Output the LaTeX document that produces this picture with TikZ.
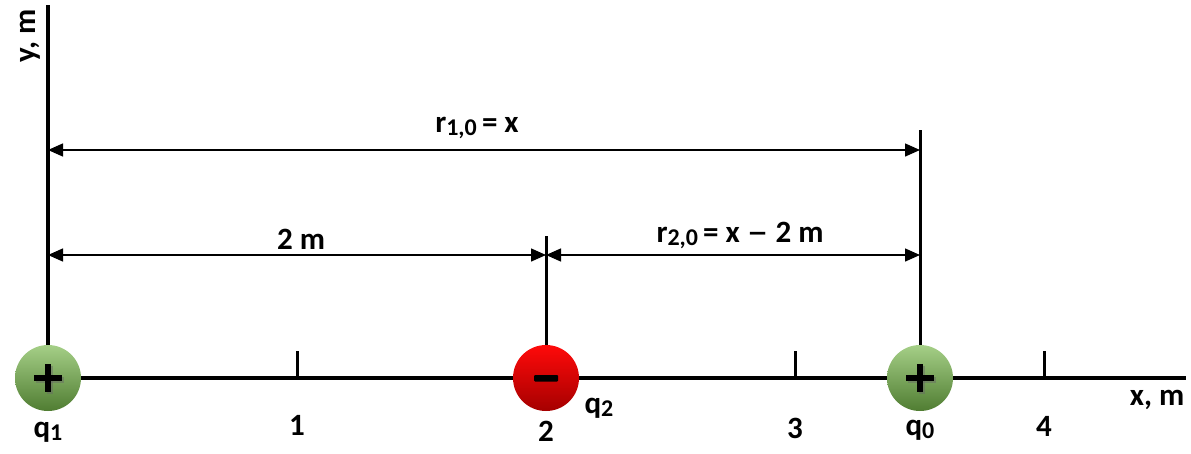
\documentclass[tikz,border=0pt]{standalone}
\usepackage{fontspec}
\setmainfont{Carlito}
\usetikzlibrary{arrows.meta}
\definecolor{gtop}{RGB}{165,207,135}
\definecolor{gbot}{RGB}{80,125,50}
\definecolor{rtop}{RGB}{255,10,10}
\definecolor{rbot}{RGB}{165,0,0}
\tikzset{
  axisline/.style={line width=4pt},
  tickline/.style={line width=3pt},
  dimline/.style={line width=1.4pt,{Triangle[length=15pt,width=13pt]}-{Triangle[length=15pt,width=13pt]}},
  lbl/.style={font=\fontsize{31}{31}\selectfont\bfseries,inner sep=0pt},
  posball/.style={circle,minimum size=66pt,inner sep=0pt,top color=gtop,bottom color=gbot},
  negball/.style={circle,minimum size=66pt,inner sep=0pt,top color=rtop,bottom color=rbot},
}
\newcommand{\sbs}[1]{\raisebox{-3pt}{\fontsize{24}{24}\selectfont #1}}
\begin{document}
\begin{tikzpicture}[x=1pt,y=-1pt]
\useasboundingbox (0,0) rectangle (1191,453);
% axes
\coordinate (ytop) at (48,5);
\coordinate (O) at (48,378);
\coordinate (xend) at (1186,378);
\draw[axisline] (ytop) -- (O);
\draw[axisline] (O) -- (xend);
% ticks
\coordinate (t1) at (297,378); \coordinate (t1u) at (297,351);
\coordinate (t3) at (795,378); \coordinate (t3u) at (795,351);
\coordinate (t4) at (1044,378); \coordinate (t4u) at (1044,351);
\draw[tickline] (t1) -- (t1u);
\draw[tickline] (t3) -- (t3u);
\draw[tickline] (t4) -- (t4u);
\coordinate (t2) at (546,378); \coordinate (t2u) at (546,236);
\draw[tickline] (t2) -- (t2u);
\coordinate (t0) at (920,378); \coordinate (t0u) at (920,130);
\draw[tickline] (t0) -- (t0u);
% dimension arrows
\coordinate (a1l) at (48,150); \coordinate (a1r) at (920,150);
\draw[dimline] (a1l) -- (a1r);
\coordinate (a2l) at (48,255); \coordinate (a2r) at (546,255);
\draw[dimline] (a2l) -- (a2r);
\coordinate (a3l) at (546,255); \coordinate (a3r) at (920,255);
\draw[dimline] (a3l) -- (a3r);
\node[lbl] (l10) at (477,128) {r\sbs{1,0}\,= x};
\node[lbl] (l2m) at (301,239) {2 m};
\node[lbl] (l20) at (740,235) {r\sbs{2,0}\,= x \scalebox{1.4}[1]{--} 2 m};
% charges
\node[posball] (q1) at (48,378) {};
\node[negball] (q2) at (546,378) {};
\node[posball] (q0) at (920,378) {};
\foreach \c in {q1,q0}{
  \draw[line width=6pt,black!60,opacity=0.45] ([shift={(1.5,1.5)}]\c.center) ++(-14,0) -- ++(28,0);
  \draw[line width=6pt,black!60,opacity=0.45] ([shift={(1.5,1.5)}]\c.center) ++(0,-14) -- ++(0,28);
  \draw[line width=6pt] (\c.center) ++(-14,0) -- ++(28,0);
  \draw[line width=6pt] (\c.center) ++(0,-14) -- ++(0,28);
}
\fill[black,rounded corners=1pt] ([shift={(-12,-3)}]q2.center) rectangle ([shift={(12,3.5)}]q2.center);
% labels
\node[lbl] (lq1) at (48,432) {q\sbs{1}};
\node[lbl] (lq2) at (599,408) {q\sbs{2}};
\node[lbl] (lq0) at (920,430) {q\sbs{0}};
\node[lbl] (n1) at (297,425) {1};
\node[lbl] (n2) at (546,431) {2};
\node[lbl] (n3) at (795,428) {3};
\node[lbl] (n4) at (1044,426) {4};
\node[lbl] (xm) at (1157,400) {x, m};
\node[lbl,rotate=90] (ym) at (30,36) {y, m};
\end{tikzpicture}
\end{document}
